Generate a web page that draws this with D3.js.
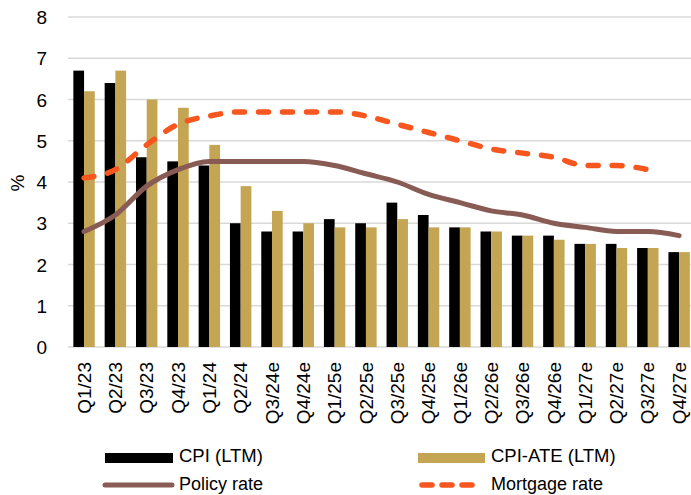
<!DOCTYPE html>
<html>
<head>
<meta charset="utf-8">
<script src="https://cdn.jsdelivr.net/npm/d3@7"></script>
<style>
  body { margin: 0; background: #fff; }
  svg text { font-family: "Liberation Sans", Arial, sans-serif; fill: #000; }
</style>
</head>
<body>
<script>
// chart data
const quarters = ["Q1/23", "Q2/23", "Q3/23", "Q4/23", "Q1/24", "Q2/24", "Q3/24e", "Q4/24e",
  "Q1/25e", "Q2/25e", "Q3/25e", "Q4/25e", "Q1/26e", "Q2/26e", "Q3/26e", "Q4/26e",
  "Q1/27e", "Q2/27e", "Q3/27e", "Q4/27e"];
const cpi = [6.7, 6.4, 4.6, 4.5, 4.4, 3.0, 2.8, 2.8, 3.1, 3.0, 3.5, 3.2, 2.9, 2.8, 2.7, 2.7, 2.5, 2.5, 2.4, 2.3];
const cpiAte = [6.2, 6.7, 6.0, 5.8, 4.9, 3.9, 3.3, 3.0, 2.9, 2.9, 3.1, 2.9, 2.9, 2.8, 2.7, 2.6, 2.5, 2.4, 2.4, 2.3];
const policyRate = [2.8, 3.2, 3.9, 4.3, 4.5, 4.5, 4.5, 4.5, 4.4, 4.2, 4.0, 3.7, 3.5, 3.3, 3.2, 3.0, 2.9, 2.8, 2.8, 2.7];
const mortgageRate = [4.1, 4.3, 4.9, 5.4, 5.6, 5.7, 5.7, 5.7, 5.7, 5.6, 5.4, 5.2, 5.0, 4.8, 4.7, 4.6, 4.4, 4.4, 4.3, null];
const yTicks = [0, 1, 2, 3, 4, 5, 6, 7, 8];

const width = 691, height = 495;
const colors = { cpi: "#000000", ate: "#C4A553", policy: "#885B55", mortgage: "#F7561E" };

const svg = d3.select("body").append("svg")
  .attr("width", width)
  .attr("height", height);

const x = d3.scaleBand()
  .domain(quarters)
  .range([68.4, 694.8])
  .paddingInner(0.316)
  .paddingOuter(0.158);

const sub = d3.scaleBand()
  .domain(["cpi", "ate"])
  .range([0, x.bandwidth()]);

const y = d3.scaleLinear()
  .domain([0, 8])
  .range([347, 17]);

// gridlines
svg.append("g")
  .selectAll("line")
  .data(yTicks)
  .enter().append("line")
  .attr("x1", 68)
  .attr("x2", width)
  .attr("y1", d => y(d))
  .attr("y2", d => y(d))
  .attr("stroke", "#d9d9d9")
  .attr("stroke-width", 1.5);

// y axis labels
const yAxis = svg.append("g")
  .attr("transform", "translate(47,0)")
  .call(d3.axisLeft(y).tickValues(yTicks).tickSize(0).tickPadding(0));
yAxis.select(".domain").remove();
yAxis.selectAll("text").style("font-size", "19px").attr("dy", "0.35em");

svg.append("text")
  .attr("transform", "translate(24,183) rotate(-90)")
  .attr("text-anchor", "middle")
  .style("font-size", "19px")
  .text("%");

// bars
const groups = svg.append("g")
  .selectAll("g")
  .data(quarters)
  .enter().append("g")
  .attr("transform", d => "translate(" + x(d) + ",0)");

groups.append("rect")
  .attr("x", sub("cpi"))
  .attr("width", sub.bandwidth())
  .attr("y", (d, i) => y(cpi[i]))
  .attr("height", (d, i) => y(0) - y(cpi[i]))
  .attr("fill", colors.cpi);

groups.append("rect")
  .attr("x", sub("ate"))
  .attr("width", sub.bandwidth())
  .attr("y", (d, i) => y(cpiAte[i]))
  .attr("height", (d, i) => y(0) - y(cpiAte[i]))
  .attr("fill", colors.ate);

// lines
const cx = d => x(d) + x.bandwidth() / 2;

const line = d3.line()
  .defined(d => d[1] != null)
  .x(d => cx(d[0]))
  .y(d => y(d[1]))
  .curve(d3.curveMonotoneX);

svg.append("path")
  .datum(quarters.map((q, i) => [q, policyRate[i]]))
  .attr("d", line)
  .attr("fill", "none")
  .attr("stroke", colors.policy)
  .attr("stroke-width", 5)
  .attr("stroke-linecap", "round");

svg.append("path")
  .datum(quarters.map((q, i) => [q, mortgageRate[i]]).filter(d => d[1] != null))
  .attr("d", line)
  .attr("fill", "none")
  .attr("stroke", colors.mortgage)
  .attr("stroke-width", 5.5)
  .attr("stroke-linecap", "round")
  .attr("stroke-dasharray", "10,14");

// x axis labels
const xAxis = svg.append("g")
  .attr("transform", "translate(0,347)")
  .call(d3.axisBottom(x).tickSize(0).tickPadding(0));
xAxis.select(".domain").remove();
xAxis.selectAll("text")
  .style("font-size", "19px")
  .attr("text-anchor", "end")
  .attr("transform", "translate(0,15) rotate(-90)")
  .attr("x", 0)
  .attr("y", 0)
  .attr("dy", "0.35em");

// legend
const legend = svg.append("g");

legend.append("rect")
  .attr("x", 105).attr("y", 453).attr("width", 68).attr("height", 10)
  .attr("fill", colors.cpi);
legend.append("text").attr("x", 179).attr("y", 462)
  .style("font-size", "18.5px").text("CPI (LTM)");

legend.append("rect")
  .attr("x", 418).attr("y", 453).attr("width", 67).attr("height", 10)
  .attr("fill", colors.ate);
legend.append("text").attr("x", 491).attr("y", 462)
  .style("font-size", "18.5px").text("CPI-ATE (LTM)");

legend.append("line")
  .attr("x1", 105).attr("x2", 172).attr("y1", 485).attr("y2", 485)
  .attr("stroke", colors.policy).attr("stroke-width", 5).attr("stroke-linecap", "round");
legend.append("text").attr("x", 179).attr("y", 490)
  .style("font-size", "18px").text("Policy rate");

legend.append("line")
  .attr("x1", 422).attr("x2", 476).attr("y1", 485).attr("y2", 485)
  .attr("stroke", colors.mortgage).attr("stroke-width", 5.5).attr("stroke-linecap", "round")
  .attr("stroke-dasharray", "10,10");
legend.append("text").attr("x", 491).attr("y", 490)
  .style("font-size", "18px").text("Mortgage rate");
</script>
</body>
</html>
